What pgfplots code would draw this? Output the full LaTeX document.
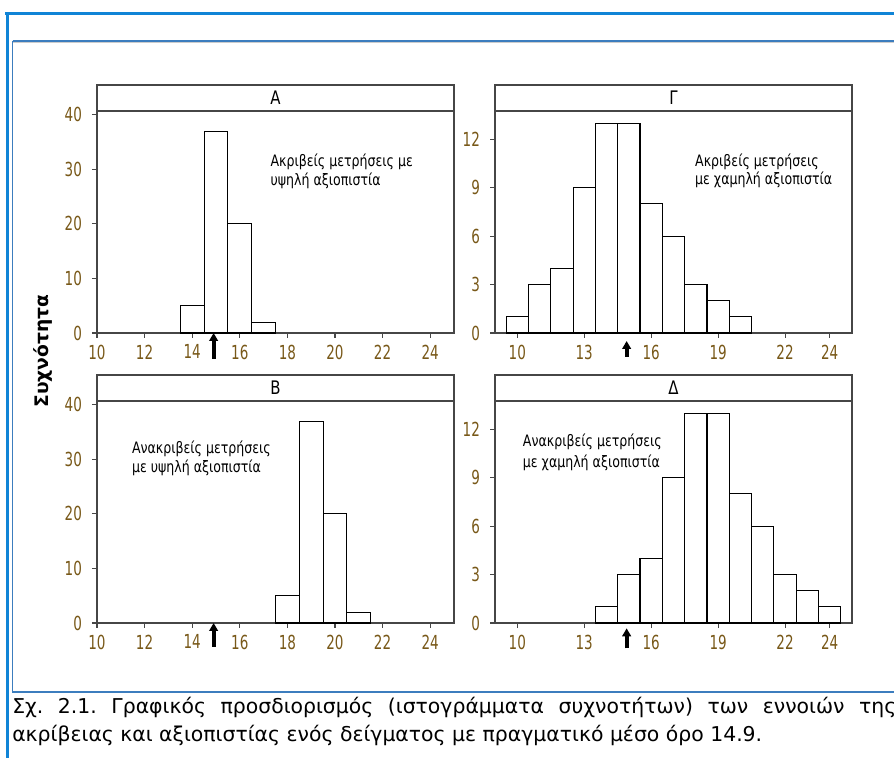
\documentclass[border=0pt]{standalone}
\usepackage{fontspec}
\setmainfont{DejaVu Sans}
\newfontfamily\chartfont[FakeStretch=0.8]{DejaVu Sans}
\newfontfamily\tickfont[FakeStretch=0.7]{DejaVu Sans}
\usepackage{pgfplots}
\pgfplotsset{compat=1.18}
\usetikzlibrary{arrows.meta}
\definecolor{outerblue}{RGB}{16,132,214}
\definecolor{innerblue}{RGB}{60,125,190}
\definecolor{ticklab}{RGB}{120,88,24}
\definecolor{axgray}{RGB}{70,70,70}

\pgfplotsset{
  panel/.style={
    scale only axis,
    width=267.75pt, height=166.5pt,
    anchor=south west,
    axis line style={axgray, line width=1pt},
    tick style={axgray, line width=0.8pt},
    tick align=outside,
    major tick length=3.75pt,
    xtick pos=bottom, ytick pos=left,
    ymin=0, xmax=25,
    clip=false,
    /pgf/number format/assume math mode=true,
    ticklabel style={font=\tickfont\fontsize{14.5}{16}\selectfont, text=ticklab},
    xticklabel style={yshift=-1.5pt},
    yticklabel style={xshift=-4pt},
  },
  wide/.style={panel, xmin=10, ymax=40.7, xtick={10,12,...,24}, ytick={0,10,...,40}},
  narrow/.style={panel, xmin=9, ymax=13.75, xtick={10,13,16,19,22,24}, ytick={0,3,...,12}},
  hist/.style={ybar, bar width=1, bar shift=0pt, fill=white, draw=black, line width=0.8pt},
}
\newcommand{\strip}[1]{%
  \draw[axgray, line width=0.9pt] (rel axis cs:0,1) rectangle ([yshift=19.5pt]rel axis cs:1,1);
  \node[font=\chartfont\fontsize{14}{16}\selectfont] at ([yshift=9.75pt]rel axis cs:0.5,1) {#1};}
\newcommand{\annot}[5]{%
  \node[anchor=base west, inner sep=0pt, font=\chartfont\fontsize{11.8}{13}\selectfont] at (axis cs:#1,#2) {#4};
  \node[anchor=base west, inner sep=0pt, font=\chartfont\fontsize{11.8}{13}\selectfont] at (axis cs:#1,#3) {#5};}
\newcommand{\marker}[2]{%
  \draw[black, line width=3pt, -{Triangle[width=6.5pt,length=6pt]}] ([yshift=-#2]axis cs:14.9,0) -- ([yshift=-#1]axis cs:14.9,0);}

\begin{document}
\begin{tikzpicture}[x=0.75pt,y=0.75pt]
\useasboundingbox (0,0) rectangle (894,758);
\clip (0,0) rectangle (894,758);
% frames
\draw[outerblue, line width=2.25pt] (5,744.5) -- (900,744.5);
\draw[outerblue, line width=2.25pt] (7,745.6) -- (7,-5);
\draw[gray!40, line width=0.75pt] (13,715.5) -- (900,715.5);
\draw[innerblue, line width=0.9pt] (12.5,717) -- (900,717);
\draw[innerblue, line width=0.9pt] (12.5,717) -- (12.5,66) -- (900,66);

% Panel A
\begin{axis}[wide, at={(72.75pt,318.75pt)}]
\addplot[hist] coordinates {(14,5) (15,37) (16,20) (17,2)};
\strip{Α}
\annot{17.28}{30.46}{27.0}{Ακριβείς μετρήσεις με}{υψηλή αξιοπιστία}
\marker{0pt}{19.5pt}
\end{axis}

% Panel Gamma
\begin{axis}[narrow, at={(371.25pt,318.75pt)}]
\addplot[hist] coordinates {(10,1) (11,3) (12,4) (13,9) (14,13) (15,13) (16,8) (17,6) (18,3) (19,2) (20,1)};
\strip{Γ}
\annot{17.96}{10.34}{9.17}{Ακριβείς μετρήσεις}{με χαμηλή αξιοπιστία}
\marker{6pt}{18pt}
\end{axis}

% Panel B
\begin{axis}[wide, at={(72.75pt,101.25pt)}]
\addplot[hist] coordinates {(18,5) (19,37) (20,20) (21,2)};
\strip{Β}
\annot{11.46}{31.1}{27.6}{Ανακριβείς μετρήσεις}{με υψηλή αξιοπιστία}
\marker{0pt}{18pt}
\end{axis}

% Panel Delta
\begin{axis}[narrow, at={(371.25pt,101.25pt)}]
\addplot[hist] coordinates {(14,1) (15,3) (16,4) (17,9) (18,13) (19,13) (20,8) (21,6) (22,3) (23,2) (24,1)};
\strip{Δ}
\annot{10.24}{10.91}{9.65}{Ανακριβείς μετρήσεις}{με χαμηλή αξιοπιστία}
\marker{4pt}{19pt}
\end{axis}

% y label
\node[rotate=90, font=\bfseries\fontsize{14}{16}\selectfont] at (43,407) {Συχνότητα};

% caption
\node[anchor=base west, inner sep=0pt, font=\fontsize{15.3}{18}\selectfont] at (12,44)
  {\hbox to 663pt{Σχ.\hfil 2.1.\hfil Γραφικός\hfil προσδιορισμός\hfil (ιστογράμματα\hfil συχνοτήτων)\hfil των\hfil εννοιών\hfil της}};
\node[anchor=base west, inner sep=0pt, font=\fontsize{15.3}{18}\selectfont] at (12,16)
  {ακρίβειας και αξιοπιστίας ενός δείγματος με πραγματικό μέσο όρο 14.9.};
\end{tikzpicture}
\end{document}
